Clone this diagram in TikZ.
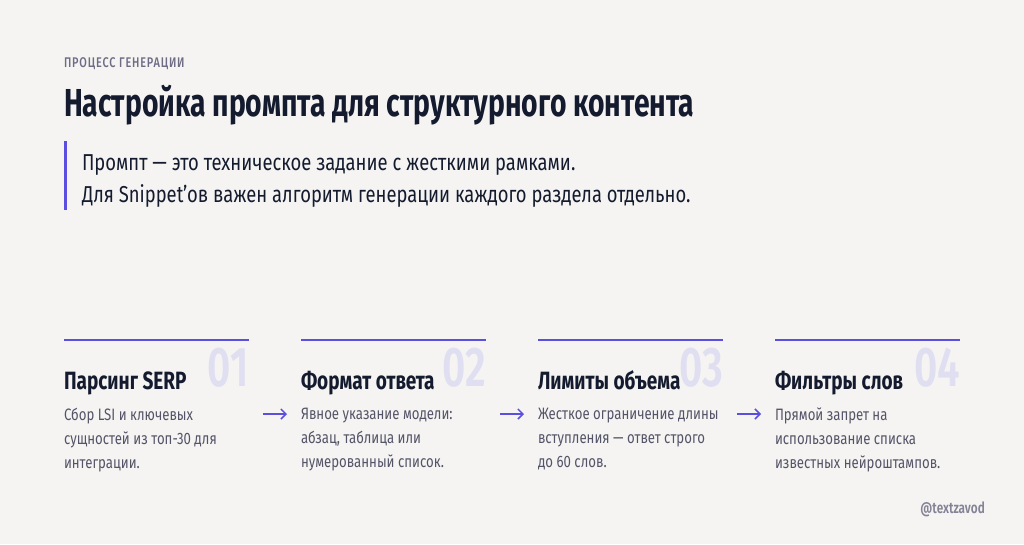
\documentclass[tikz,border=0pt]{standalone}
\usepackage{fontspec}
\setmainfont{Fira Sans}[FakeStretch=0.80]
\newfontfamily\hfont{Fira Sans}[FakeStretch=0.76,UprightFont=* SemiBold,BoldFont=* Bold]
\newfontfamily\tfont{Fira Sans}[FakeStretch=0.725,UprightFont=* Bold]
\newfontfamily\nfont{Fira Sans}[FakeStretch=0.72,UprightFont=* SemiBold]
\newfontfamily\kfont{Fira Sans}[FakeStretch=0.78,UprightFont=* Medium,LetterSpace=6]
\usetikzlibrary{arrows.meta}
\definecolor{bg}{HTML}{F5F4F2}
\definecolor{navy}{HTML}{141B2E}
\definecolor{muted}{HTML}{6E6C84}
\definecolor{body}{HTML}{545468}
\definecolor{accent}{HTML}{5B4FE0}
\definecolor{numc}{HTML}{E0DFF1}
\tikzset{
  txt/.style={anchor=base west,inner sep=0pt,outer sep=0pt},
  kicker/.style={txt,text=muted,font=\kfont\fontsize{14}{16}\selectfont},
  titletxt/.style={txt,text=navy,font=\tfont\fontsize{39}{42}\selectfont},
  lead/.style={txt,text=navy,font=\fontsize{23}{32}\selectfont},
  stephead/.style={txt,text=navy,font=\hfont\bfseries\fontsize{25}{28}\selectfont},
  stepbody/.style={txt,text=body,font=\fontsize{16.5}{24}\selectfont,align=left},
  stepnum/.style={anchor=base east,inner sep=0pt,text=numc,font=\nfont\fontsize{56}{56}\selectfont},
  topline/.style={draw=accent,line width=2.5pt},
  flow/.style={draw=accent,line width=1.5pt,-{Straight Barb[length=5pt,width=10pt]}},
}
\begin{document}
\begin{tikzpicture}[x=1pt,y=-1pt]
\fill[bg] (0,0) rectangle (1024,544);
\useasboundingbox (0,0) rectangle (1024,544);
\node[kicker] (kick) at (64,67) {ПРОЦЕСС ГЕНЕРАЦИИ};
\node[titletxt] (title) at (64,116) {Настройка промпта для структурного контента};
\draw[accent,line width=3pt] (65,141) coordinate (barT) -- (65,210) coordinate (barB);
\node[lead] (l1) at (82,170) {Промпт — это техническое задание с жесткими рамками.};
\node[lead] (l2) at (82,202) {Для Snippet’ов важен алгоритм генерации каждого раздела отдельно.};
% steps
\foreach \i/\x/\n/\h/\b in {
 1/64/01/Парсинг SERP/{Сбор LSI и ключевых\\сущностей из топ-30 для\\интеграции.},
 2/301/02/Формат ответа/{Явное указание модели:\\абзац, таблица или\\нумерованный список.},
 3/538/03/Лимиты объема/{Жесткое ограничение длины\\вступления — ответ строго\\до 60 слов.},
 4/775/04/Фильтры слов/{Прямой запрет на\\использование списка\\известных нейроштампов.}}{
  \draw[topline] (\x,340) coordinate (ls\i) -- (\x+185,340) coordinate (le\i);
  \node[stepnum] (n\i) at (\x+185,386) {\n};
  \node[stephead] (h\i) at (\x,389) {\h};
  \node[stepbody,anchor=north west] (b\i) at (\x,408) {\b};
}
\foreach \i/\x in {1/263,2/500,3/737}{
  \coordinate (as\i) at (\x,414);
  \coordinate (ae\i) at (\x+24,414);
  \draw[flow] (as\i) -- (ae\i);
}
\node[anchor=base east,inner sep=0pt,text=muted!85,font=\hfont\fontsize{15.5}{16}\selectfont] (brand) at (985,513) {@textzavod};
\end{tikzpicture}
\end{document}
